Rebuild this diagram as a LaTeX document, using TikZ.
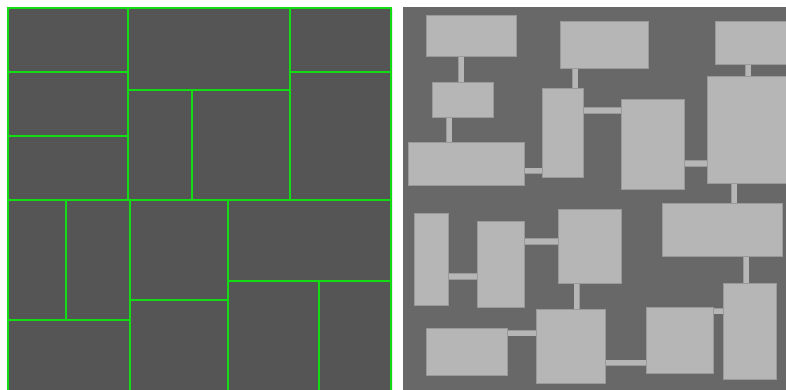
\documentclass[tikz,border=0pt]{standalone}
\usetikzlibrary{backgrounds}
\definecolor{cgreen}{HTML}{14DC14}
\definecolor{cdark}{HTML}{555555}
\definecolor{cmid}{HTML}{686868}
\definecolor{croom}{HTML}{B6B6B6}
\definecolor{cedge}{HTML}{9A9A9A}
\tikzset{
  every picture/.style={x=1pt, y=-1pt},
  cell/.style={draw=cgreen, line width=1.8pt},
  room/.style={draw=cedge, fill=croom, line width=0.7pt, anchor=north west, inner sep=0pt, outer sep=0pt},
  link/.style={draw=cedge, line width=0.7pt, double=croom, double distance=5pt},
}

\begin{document}
\begin{tikzpicture}
  \useasboundingbox (0,0) rectangle (786,389);
  % panels
  \begin{scope}[on background layer]
    \fill[cdark, rounded corners=2pt] (7,7) rectangle (392,395);
    \fill[cmid] (403,7) rectangle (790,395);
  \end{scope}
  % left: split cells
  \foreach \xa/\ya/\xb/\yb in {8/8/128/72, 8/72/128/136, 8/136/128/200, 128/8/290/90,
      128/90/192/200, 192/90/290/200, 290/8/391/72, 290/72/391/200,
      8/200/66/320, 66/200/130/320, 8/320/130/395, 130/200/228/300,
      130/300/228/395, 228/200/391/281, 228/281/319/395, 319/281/391/395}
    \draw[cell] (\xa,\ya) rectangle (\xb,\yb);
  % right: rooms
  \node[room, minimum width=90pt, minimum height=41pt] (r1) at (426.3,15.3) {};
  \node[room, minimum width=61pt, minimum height=35pt] (r2) at (432.3,82) {};
  \node[room, minimum width=116pt, minimum height=42.6pt] (r3) at (408.7,142.7) {};
  \node[room, minimum width=41pt, minimum height=89.7pt] (r4) at (542.7,88) {};
  \node[room, minimum width=88.4pt, minimum height=46.6pt] (r5) at (560.3,21.7) {};
  \node[room, minimum width=63pt, minimum height=90pt] (r6) at (621,99.3) {};
  \node[room, minimum width=84pt, minimum height=107pt] (r7) at (707.7,76.3) {};
  \node[room, minimum width=76pt, minimum height=42.3pt] (r8) at (715.3,21.7) {};
  \node[room, minimum width=120pt, minimum height=52.7pt] (r9) at (662.3,203.3) {};
  \node[room, minimum width=53pt, minimum height=95.6pt] (r10) at (723.3,283.7) {};
  \node[room, minimum width=66.6pt, minimum height=66pt] (r11) at (646.7,307.3) {};
  \node[room, minimum width=68.6pt, minimum height=74.3pt] (r12) at (536.7,309) {};
  \node[room, minimum width=33.3pt, minimum height=91.7pt] (r13) at (414.7,213.3) {};
  \node[room, minimum width=47pt, minimum height=86pt] (r14) at (477.7,221) {};
  \node[room, minimum width=62.7pt, minimum height=74pt] (r15) at (558.3,209.3) {};
  \node[room, minimum width=80.7pt, minimum height=47pt] (r16) at (426.3,328.3) {};
  % corridors
  \begin{scope}[on background layer]
    \draw[link] (r1.south -| 461,0) -- (r2.north -| 461,0);
    \draw[link] (r2.south -| 449,0) -- (r3.north -| 449,0);
    \draw[link] (r3.east |- 0,170.7) -- (r4.west |- 0,170.7);
    \draw[link] (r5.south -| 575,0) -- (r4.north -| 575,0);
    \draw[link] (r4.east |- 0,110.3) -- (r6.west |- 0,110.3);
    \draw[link] (r6.east |- 0,163.3) -- (r7.west |- 0,163.3);
    \draw[link] (r8.south -| 748,0) -- (r7.north -| 748,0);
    \draw[link] (r7.south -| 734.2,0) -- (r9.north -| 734.2,0);
    \draw[link] (r9.south -| 746,0) -- (r10.north -| 746,0);
    \draw[link] (r11.east |- 0,311) -- (r10.west |- 0,311);
    \draw[link] (r12.east |- 0,362.7) -- (r11.west |- 0,362.7);
    \draw[link] (r13.east |- 0,276.5) -- (r14.west |- 0,276.5);
    \draw[link] (r14.east |- 0,241.5) -- (r15.west |- 0,241.5);
    \draw[link] (r15.south -| 576.8,0) -- (r12.north -| 576.8,0);
    \draw[link] (r16.east |- 0,333.2) -- (r12.west |- 0,333.2);
  \end{scope}
\end{tikzpicture}
\end{document}
